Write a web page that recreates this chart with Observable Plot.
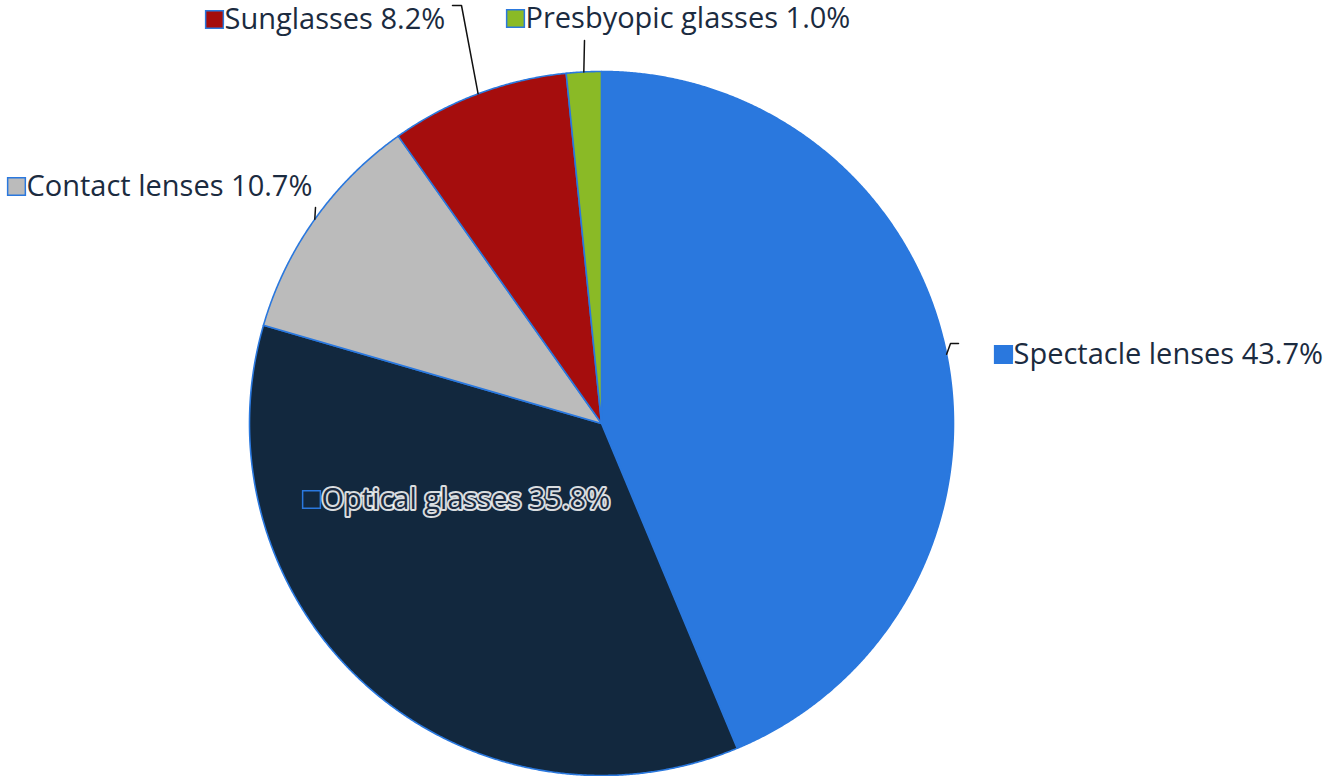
<!DOCTYPE html>
<html>
<head>
<meta charset="utf-8">
<script src="https://cdn.jsdelivr.net/npm/d3@7"></script>
<script src="https://cdn.jsdelivr.net/npm/@observablehq/plot@0.6"></script>
<style>
  html, body { margin: 0; padding: 0; background: #ffffff; }
  #chart { width: 1325px; height: 776px; }
  svg { display: block; }
</style>
</head>
<body>
<div id="chart"></div>
<script>
// ---- data ----
const categories = ["Spectacle lenses", "Optical glasses", "Contact lenses", "Sunglasses", "Presbyopic glasses"];
const shares = [43.7, 35.8, 10.7, 8.2, 1.6];            // slice sizes as drawn
const shareLabels = ["43.7%", "35.8%", "10.7%", "8.2%", "1.0%"]; // labels as printed
const colors = ["#2a78de", "#12283e", "#bbbbbb", "#a50d0d", "#8aba26"];

// ---- layout (pixel placement of labels / leaders) ----
const W = 1325, H = 776;
const CX = 601, CY = 423, R = 352;
const labelPx = [[1013, 354], [321, 499], [26, 186], [224, 19], [525, 18]];
const leaderElbows = [
  [[950, 343], [958, 343]],
  null,
  [[315, 207]],
  [[461, 5], [452, 5]],
  [[584, 40]]
];
const toX = px => (px - CX) / R;
const toY = py => (CY - py) / R;

// ---- geometry derived from data ----
const total = d3.sum(shares);
let acc = 0;
const slices = categories.map((c, i) => {
  const a0 = acc / total * 2 * Math.PI;
  acc += shares[i];
  const a1 = acc / total * 2 * Math.PI;
  return {cat: c, a0, a1, mid: (a0 + a1) / 2, color: colors[i]};
});
function slicePoints(s) {
  const pts = [{x: 0, y: 0}];
  const n = Math.max(2, Math.ceil((s.a1 - s.a0) / (Math.PI / 720)));
  for (let k = 0; k <= n; k++) {
    const a = s.a0 + (s.a1 - s.a0) * k / n;
    pts.push({x: Math.sin(a), y: Math.cos(a)});
  }
  pts.push({x: 0, y: 0});
  return pts;
}

const labels = categories.map((c, i) => ({
  text: c + " " + shareLabels[i],
  x: toX(labelPx[i][0]),
  y: toY(labelPx[i][1]),
  sx: toX(labelPx[i][0] - 10),
  color: colors[i]
}));

const leaders = [];
slices.forEach((s, i) => {
  if (!leaderElbows[i]) return;
  const pts = [{x: Math.sin(s.mid), y: Math.cos(s.mid)}];
  leaderElbows[i].forEach(p => pts.push({x: toX(p[0]), y: toY(p[1])}));
  pts.forEach(p => leaders.push({...p, id: i}));
});

const textStyle = {
  fontFamily: "'Open Sans', 'Noto Sans', sans-serif",
  fontSize: 29
};

const plot = Plot.plot({
  width: W,
  height: H,
  margin: 0,
  x: {domain: [-1, 1], range: [CX - R, CX + R], axis: null},
  y: {domain: [-1, 1], range: [CY + R, CY - R], axis: null},
  style: {background: "#ffffff", overflow: "visible"},
  marks: [
    ...slices.map(s => Plot.line(slicePoints(s), {
      x: "x", y: "y", fill: s.color, stroke: "#2a78de", strokeWidth: 1.6,
      strokeLinejoin: "round", curve: "linear"
    })),
    Plot.line(leaders, {x: "x", y: "y", z: "id", stroke: "#111111", strokeWidth: 1.5, curve: "linear"}),
    Plot.dot(labels, {
      x: "sx", y: "y", symbol: "square", r: 10, fill: "color",
      stroke: "#2a78de", strokeWidth: 1.5
    }),
    Plot.text(labels, {
      x: "x", y: "y", text: "text", textAnchor: "start", lineAnchor: "middle",
      fill: "#1b2b40", stroke: "white", strokeWidth: 4, strokeOpacity: 0.85,
      ...textStyle
    })
  ]
});
document.getElementById("chart").appendChild(plot);
</script>
</body>
</html>
